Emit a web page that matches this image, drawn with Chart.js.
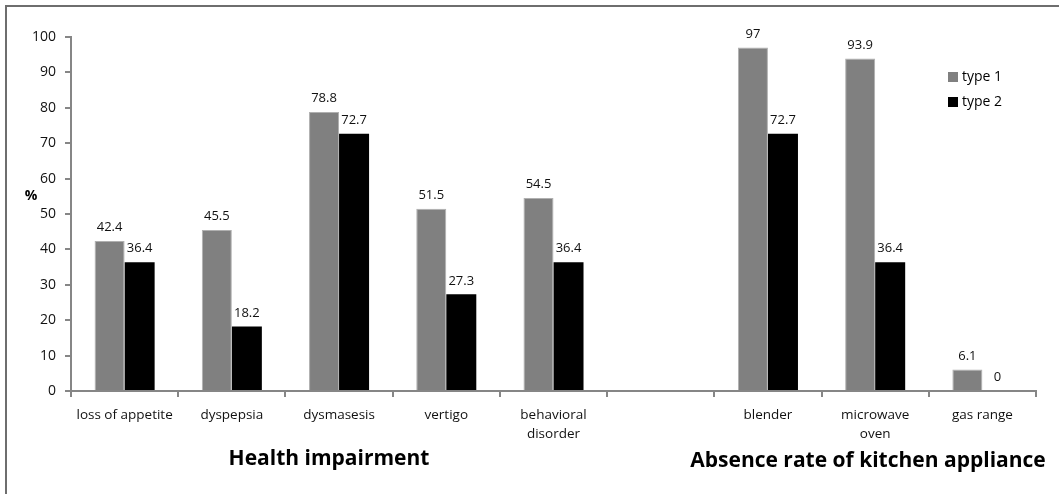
<!DOCTYPE html>
<html>
<head>
<meta charset="utf-8">
<script src="https://cdn.jsdelivr.net/npm/chart.js@4/dist/chart.umd.min.js"></script>
<style>
  body { margin: 0; background: #fff; overflow: hidden; }
  #wrap { position: relative; width: 1059px; height: 494px; }
  #frame { position: absolute; left: 5px; top: 5px; right: 0; bottom: 0;
           border-left: 2px solid #6e6e6e; border-top: 2px solid #6e6e6e; }
</style>
</head>
<body>
<div id="wrap">
  <div id="frame"></div>
  <canvas id="chart"></canvas>
</div>
<script>
// categories (the empty one separates the two groups)
const categories = ['loss of appetite', 'dyspepsia', 'dysmasesis', 'vertigo', ['behavioral', 'disorder'],
                    '', 'blender', ['microwave', 'oven'], 'gas range'];
const type1 = [42.4, 45.5, 78.8, 51.5, 54.5, null, 97, 93.9, 6.1];
const type2 = [36.4, 18.2, 72.7, 27.3, 36.4, null, 72.7, 36.4, 0];
const seriesNames = ['type 1', 'type 2'];
const groupTitles = ['Health impairment', 'Absence rate of kitchen appliance'];

const FONT = "'Open Sans', sans-serif";
const axisGray = '#868686';

// value labels over the bars
const barLabels = {
  id: 'barLabels',
  afterDatasetsDraw(chart) {
    const ctx = chart.ctx;
    ctx.save();
    ctx.font = '13px ' + FONT;
    ctx.fillStyle = '#111';
    ctx.textAlign = 'center';
    ctx.textBaseline = 'bottom';
    chart.data.datasets.forEach((ds, i) => {
      chart.getDatasetMeta(i).data.forEach((bar, j) => {
        const v = ds.data[j];
        if (v === null) return;
        ctx.fillText(String(v), bar.x, bar.y - 7);
      });
    });
    ctx.restore();
  }
};

// extra texts: % label, legend, group titles
const extras = {
  id: 'extras',
  afterDraw(chart) {
    const ctx = chart.ctx;
    const y = chart.scales.y;
    ctx.save();
    ctx.fillStyle = '#000';

    ctx.font = 'bold 14px ' + FONT;
    ctx.textAlign = 'center';
    ctx.textBaseline = 'middle';
    ctx.fillText('%', 31, y.getPixelForValue(55));

    // legend
    ctx.font = '14px ' + FONT;
    ctx.textAlign = 'left';
    chart.data.datasets.forEach((ds, i) => {
      const ly = 77 + i * 25;
      ctx.fillStyle = ds.backgroundColor;
      ctx.fillRect(948, ly - 5, 10, 10);
      ctx.fillStyle = '#000';
      ctx.fillText(seriesNames[i], 962, ly);
    });

    // group titles
    ctx.font = 'bold 21px ' + FONT;
    ctx.textAlign = 'center';
    ctx.fillText(groupTitles[0], 329, 459);
    ctx.fillText(groupTitles[1], 868, 461);
    ctx.restore();
  }
};

new Chart(document.getElementById('chart'), {
  type: 'bar',
  data: {
    labels: categories,
    datasets: [
      { label: seriesNames[0], data: type1, backgroundColor: '#808080', borderColor: '#b0b0b0', borderWidth: 1,
        categoryPercentage: 0.56, barPercentage: 1.0 },
      { label: seriesNames[1], data: type2, backgroundColor: '#000000',
        categoryPercentage: 0.56, barPercentage: 1.0 }
    ]
  },
  options: {
    responsive: true,
    maintainAspectRatio: false,
    animation: false,
    layout: { padding: { left: 0, right: 23, top: 37, bottom: 0 } },
    plugins: { legend: { display: false }, tooltip: { enabled: false } },
    scales: {
      x: {
        afterFit(s) { s.height = 103; },
        grid: { offset: true, drawOnChartArea: false, tickLength: 6, color: axisGray, lineWidth: 2 },
        border: { color: axisGray, width: 2 },
        ticks: { color: '#111', font: { family: FONT, size: 13.5, lineHeight: 1.45 }, padding: 8,
                 maxRotation: 0, autoSkip: false }
      },
      y: {
        min: 0, max: 100,
        afterFit(s) { s.width = 71; },
        grid: { drawOnChartArea: false, tickLength: 6, color: axisGray, lineWidth: 2 },
        border: { color: axisGray, width: 2 },
        ticks: { stepSize: 10, color: '#111', font: { family: FONT, size: 14 }, padding: 9 }
      }
    }
  },
  plugins: [barLabels, extras]
});
</script>
</body>
</html>
